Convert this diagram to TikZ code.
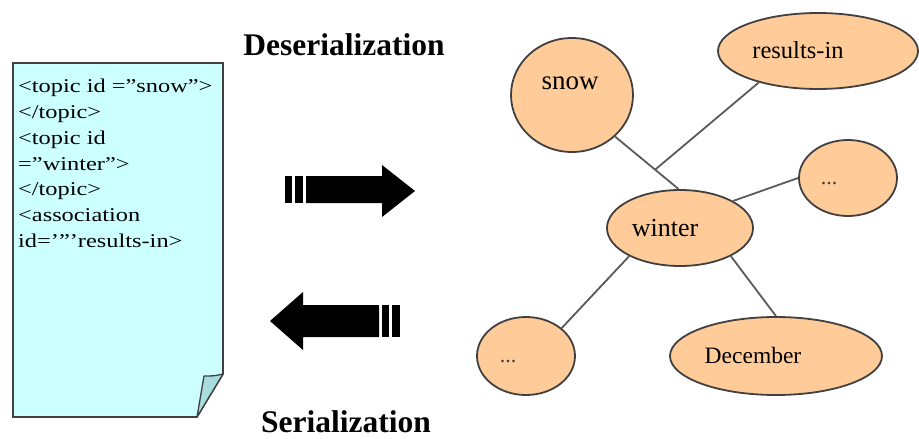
\documentclass[tikz,border=0pt]{standalone}
\usepackage{fontspec}
\setmainfont{Liberation Serif}
\newfontfamily\docfont[FakeStretch=1.25]{Liberation Serif}
\usetikzlibrary{shapes.geometric}
\definecolor{paper}{HTML}{CCFFFF}
\definecolor{flap}{HTML}{A9DCDC}
\definecolor{peach}{HTML}{FFCC99}
\definecolor{rim}{HTML}{404040}
\definecolor{link}{HTML}{5A5A5A}
\tikzset{
  topic/.style={ellipse, draw=rim, line width=1.8pt, fill=peach, inner sep=0pt},
  label text/.style={inner sep=0pt, text=black},
  assoc line/.style={draw=link, line width=1.8pt},
  bigarrow/.style={fill=black, draw=none},
  title/.style={inner sep=0pt, font=\fontsize{31.5}{36}\selectfont\bfseries}
}
\begin{document}
\begin{tikzpicture}[x=1pt, y=-1pt]
\useasboundingbox (0,0) rectangle (919,439);

% serialized document with a folded corner
\draw[rim, line width=1.6pt, fill=paper]
  (13,63) -- (223,63) -- (223,374) -- (197,417) -- (13,417) -- cycle;
\draw[rim, line width=1.3pt, fill=flap, line join=round]
  (223,374) .. controls (214,376) .. (204,376) -- (197,417) -- cycle;
\node[anchor=north west, inner sep=0pt, align=left,
      font=\docfont\fontsize{19.5}{25.8}\selectfont] (xml) at (18,79)
  {<topic id =”snow”>\\
   </topic>\\
   <topic id\\
   =”winter”>\\
   </topic>\\
   <association\\
   id=’”’results-in>};

% conversion arrows
\fill[bigarrow] (285,176) rectangle (292,203);
\fill[bigarrow] (295,176) rectangle (303,203);
\fill[bigarrow] (306,176) -- (382,176) -- (382,165) -- (415,191)
  -- (382,217) -- (382,203) -- (306,203) -- cycle;

\fill[bigarrow] (392,305) rectangle (400,337);
\fill[bigarrow] (382,305) rectangle (389,337);
\fill[bigarrow] (379,305) -- (303,305) -- (303,292) -- (270,321)
  -- (303,350) -- (303,337) -- (379,337) -- cycle;

\node[title] (deser) at (344,45) {Deserialization};
\node[title] (ser) at (346,422) {Serialization};

% topic map graph
\node[topic, minimum width=122pt, minimum height=114pt] (snow) at (572,95) {};
\node[topic, minimum width=200pt, minimum height=76pt] (res) at (818,51) {};
\node[topic, minimum width=98pt, minimum height=76pt] (dotsR) at (848,178) {};
\node[topic, minimum width=146pt, minimum height=76pt] (winter) at (680,228) {};
\node[topic, minimum width=98pt, minimum height=78pt] (dotsL) at (526,356) {};
\node[topic, minimum width=212pt, minimum height=78pt] (dec) at (776,356) {};

\node[label text, font=\fontsize{27}{30}\selectfont] (snowT) at (570,83) {snow};
\node[label text, font=\fontsize{24.5}{28}\selectfont] (resT) at (798,50) {results-in};
\node[label text, font=\fontsize{22}{24}\selectfont, text=rim] (dotsRT) at (829,184) {...};
\node[label text, font=\fontsize{26}{28}\selectfont] (winterT) at (665,228) {winter};
\node[label text, font=\fontsize{22}{24}\selectfont, text=rim] (dotsLT) at (508,362) {...};
\node[label text, font=\fontsize{23.5}{26}\selectfont] (decT) at (753,355) {December};

\draw[assoc line] (snow.-44) -- coordinate[pos=0.63] (mid) (winter.92);
\draw[assoc line] (res.208) -- (mid);
\draw[assoc line] (winter.27) -- (dotsR.west);
\draw[assoc line] (winter.209) -- (dotsL.38);
\draw[assoc line] (winter.-29) -- (dec.north);
\end{tikzpicture}
\end{document}
